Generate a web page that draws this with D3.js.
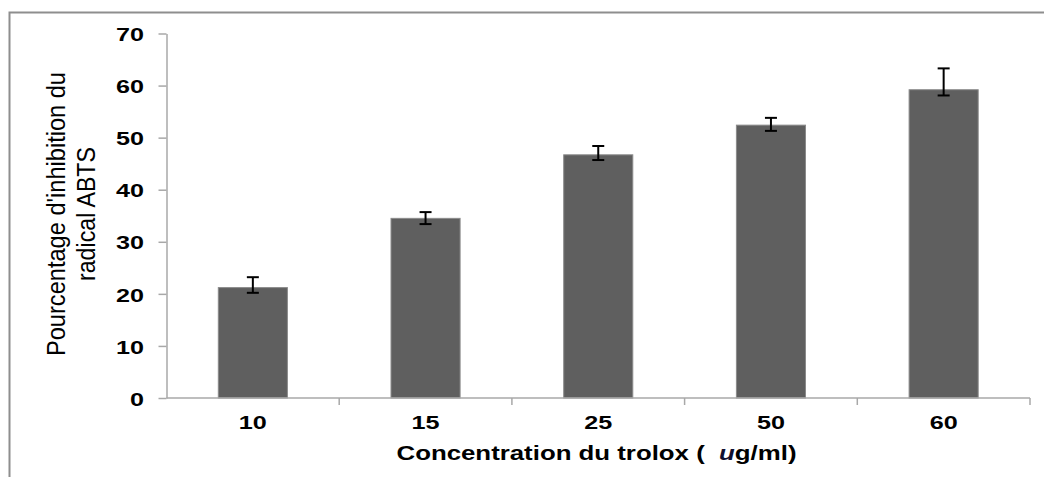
<!DOCTYPE html>
<html>
<head>
<meta charset="utf-8">
<script src="https://cdn.jsdelivr.net/npm/d3@7/dist/d3.min.js"></script>
<style>
  html, body { margin: 0; padding: 0; background: #ffffff; }
  svg { display: block; }
</style>
</head>
<body>
<svg id="chart" width="1044" height="477"></svg>
<script>
// Trolox concentrations (µg/ml) and ABTS radical inhibition (%)
const categories = ["10", "15", "25", "50", "60"];
const inhibition = [21.2, 34.5, 46.7, 52.4, 59.2];
const errLow  = [20.2, 33.4, 45.7, 51.3, 58.1];
const errHigh = [23.2, 35.7, 48.4, 53.8, 63.3];
const yTicks = [0, 10, 20, 30, 40, 50, 60, 70];

const yTitleLines = ["Pourcentage d'inhibition du", "radical ABTS"];
const xTitle = "Concentration du trolox (  ";
const xTitleUnit = "u";
const xTitleRest = "g/ml)";

const data = categories.map((c, i) => ({
  cat: c, value: inhibition[i], lo: errLow[i], hi: errHigh[i]
}));

const svg = d3.select("#chart");
const axisX0 = 166.5, axisX1 = 1030;
const axisY0 = 398, axisY1 = 33.5;

const x = d3.scaleBand()
  .domain(categories)
  .range([axisX0, axisX1])
  .paddingInner(0.6)
  .paddingOuter(0.3);

const y = d3.scaleLinear()
  .domain([0, 70])
  .range([axisY0, axisY1]);

const digitW = 14; // width per digit of the bold tick numerals

// outer frame (top and left edges)
svg.append("path")
  .attr("d", "M9.5,477 L9.5,12.5 L1044,12.5")
  .attr("fill", "none")
  .attr("stroke", "#8e8e8e")
  .attr("stroke-width", 2);

// bars
svg.append("g").selectAll("rect")
  .data(data)
  .join("rect")
  .attr("x", d => x(d.cat))
  .attr("y", d => y(d.value))
  .attr("width", x.bandwidth())
  .attr("height", d => y(0) - y(d.value))
  .attr("fill", "#5f5f5f")
  .attr("stroke", "#8a8a8a")
  .attr("stroke-width", 1);

// y axis
const yAxis = svg.append("g")
  .attr("transform", `translate(${axisX0},0)`)
  .call(d3.axisLeft(y).tickValues(yTicks).tickSize(8).tickPadding(14.5).tickSizeOuter(0));
yAxis.select(".domain").attr("stroke", "#a8a8a8").attr("stroke-width", 1.5);
yAxis.selectAll(".tick line").attr("stroke", "#a8a8a8").attr("stroke-width", 1.5);
yAxis.selectAll(".tick text")
  .attr("fill", "#000")
  .attr("dy", "0.4em")
  .style("font-family", "'Liberation Sans', Arial, sans-serif")
  .style("font-weight", "bold")
  .style("font-size", "18px")
  .attr("textLength", d => String(d).length * digitW)
  .attr("lengthAdjust", "spacingAndGlyphs");

// x axis: baseline, category-boundary ticks and labels
const step = x.step();
const edges = categories.map(c => x(c) + x.bandwidth() / 2 - step / 2)
  .concat([x(categories[categories.length - 1]) + x.bandwidth() / 2 + step / 2]);

const xg = svg.append("g");
xg.append("line")
  .attr("x1", axisX0).attr("x2", axisX1)
  .attr("y1", y(0)).attr("y2", y(0))
  .attr("stroke", "#a8a8a8").attr("stroke-width", 1.5);
xg.selectAll("line.edge")
  .data(edges.slice(1))
  .join("line")
  .attr("class", "edge")
  .attr("x1", d => d).attr("x2", d => d)
  .attr("y1", y(0)).attr("y2", y(0) + 7)
  .attr("stroke", "#a8a8a8").attr("stroke-width", 1.5);

const xAxis = svg.append("g")
  .attr("transform", `translate(0,${y(0)})`)
  .call(d3.axisBottom(x).tickSize(0).tickPadding(0));
xAxis.select(".domain").remove();
xAxis.selectAll(".tick text")
  .attr("fill", "#000")
  .attr("y", 31)
  .attr("dy", 0)
  .style("font-family", "'Liberation Sans', Arial, sans-serif")
  .style("font-weight", "bold")
  .style("font-size", "18.5px")
  .attr("textLength", d => String(d).length * digitW)
  .attr("lengthAdjust", "spacingAndGlyphs");

// error bars
const capHalf = 6;
const eb = svg.append("g")
  .attr("stroke", "#000")
  .attr("stroke-width", 2)
  .selectAll("g")
  .data(data)
  .join("g")
  .attr("transform", d => `translate(${x(d.cat) + x.bandwidth() / 2},0)`);
eb.append("line").attr("x1", 0).attr("x2", 0)
  .attr("y1", d => y(d.lo)).attr("y2", d => y(d.hi));
eb.append("line").attr("x1", -capHalf).attr("x2", capHalf)
  .attr("y1", d => y(d.hi)).attr("y2", d => y(d.hi));
eb.append("line").attr("x1", -capHalf).attr("x2", capHalf)
  .attr("y1", d => y(d.lo)).attr("y2", d => y(d.lo));

// y axis title (two lines, condensed)
const yTitleLen = [284, 134];
const yTitle = svg.append("text")
  .attr("transform", `translate(65,214) rotate(-90)`)
  .attr("text-anchor", "middle")
  .style("font-family", "'Liberation Sans', Arial, sans-serif")
  .style("font-size", "25.5px")
  .attr("fill", "#000");
yTitle.selectAll("tspan")
  .data(yTitleLines)
  .join("tspan")
  .attr("x", 0)
  .attr("y", (d, i) => i * 29.5)
  .attr("textLength", (d, i) => yTitleLen[i])
  .attr("lengthAdjust", "spacingAndGlyphs")
  .text(d => d);

// x axis title
const xt = svg.append("text")
  .attr("x", 596.5)
  .attr("y", 460)
  .attr("text-anchor", "middle")
  .attr("textLength", 400)
  .attr("lengthAdjust", "spacingAndGlyphs")
  .style("white-space", "pre")
  .style("font-family", "'Liberation Sans', Arial, sans-serif")
  .style("font-weight", "bold")
  .style("font-size", "20px")
  .attr("fill", "#000");
xt.append("tspan").text(xTitle);
xt.append("tspan").style("font-style", "italic").attr("fill", "#101030").text(xTitleUnit);
xt.append("tspan").text(xTitleRest);
</script>
</body>
</html>
